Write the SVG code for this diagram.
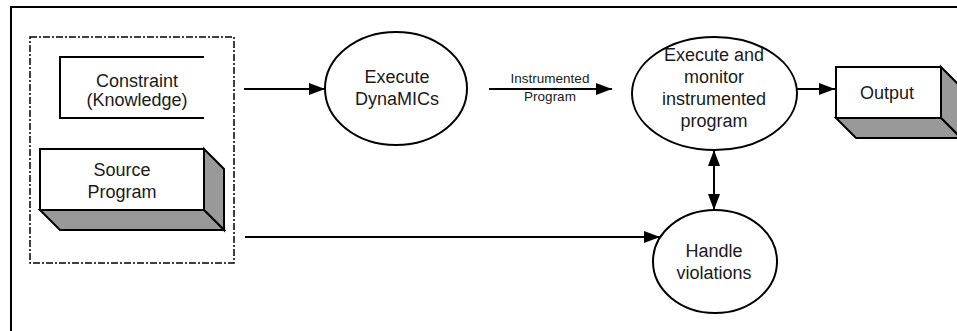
<svg xmlns="http://www.w3.org/2000/svg" width="957" height="331" viewBox="0 0 957 331">
<style>
  text { font-family: "Liberation Sans", Arial, sans-serif; font-size: 18px; fill: #1a1a1a; text-anchor: middle; }
  .small { font-size: 13.5px; }
  .ln { stroke: #000; stroke-width: 2; fill: none; }
  .node { stroke: #000; stroke-width: 2; fill: #fff; }
  .side { stroke: #000; stroke-width: 2; fill: #999; stroke-linejoin: miter; }
</style>
<defs>
  <marker id="ah" viewBox="0 0 16 12" refX="16" refY="6" markerWidth="16" markerHeight="12" markerUnits="userSpaceOnUse" orient="auto-start-reverse">
    <path d="M0,0 L16,6 L0,12 Z" fill="#000"/>
  </marker>
</defs>
<rect width="957" height="331" fill="#fff"/>
<rect x="11" y="7" width="980" height="360" fill="none" stroke="#000" stroke-width="2"/>

<g id="input-group">
  <rect x="30" y="37" width="204" height="226" fill="none" stroke="#000" stroke-width="1.5" stroke-dasharray="7,2,2,2"/>
</g>

<g id="constraint">
  <path class="ln" d="M204,57 H60 V118 H204"/>
  <text x="137" y="87">Constraint</text>
  <text x="137" y="106">(Knowledge)</text>
</g>

<g id="source-program">
  <polygon class="side" points="204,149 224,169 224,230 204,210"/>
  <polygon class="side" points="40,210 204,210 224,230 60,230"/>
  <rect class="node" x="40" y="149" width="164" height="61"/>
  <text x="122" y="176">Source</text>
  <text x="122" y="198">Program</text>
</g>

<g id="execute-dynamics">
  <ellipse class="node" cx="396" cy="88.5" rx="71" ry="56.5"/>
  <text x="397" y="83">Execute</text>
  <text x="397" y="105">DynaMICs</text>
</g>

<g id="execute-monitor">
  <ellipse class="node" cx="714.5" cy="93.5" rx="82.5" ry="56.5"/>
  <text x="714" y="61">Execute and</text>
  <text x="714" y="83">monitor</text>
  <text x="714" y="105">instrumented</text>
  <text x="714" y="127">program</text>
</g>

<g id="output">
  <polygon class="side" points="941,67 961,87 961,138 941,118"/>
  <polygon class="side" points="836,118 941,118 961,138 856,138"/>
  <rect class="node" x="836" y="67" width="105" height="51"/>
  <text x="887" y="99">Output</text>
</g>

<g id="handle-violations">
  <ellipse class="node" cx="715" cy="261.5" rx="62" ry="51.5"/>
  <text x="714" y="257">Handle</text>
  <text x="714" y="279">violations</text>
</g>

<g id="connectors">
  <line class="ln" x1="244" y1="89" x2="325" y2="89" marker-end="url(#ah)"/>
  <line class="ln" x1="489" y1="89" x2="612" y2="89" marker-end="url(#ah)"/>
  <text class="small" x="550" y="83">Instrumented</text>
  <text class="small" x="550" y="101">Program</text>
  <line class="ln" x1="797" y1="89" x2="835" y2="89" marker-end="url(#ah)"/>
  <line class="ln" x1="714" y1="150" x2="714" y2="210" marker-start="url(#ah)" marker-end="url(#ah)"/>
  <line class="ln" x1="245" y1="237" x2="660" y2="237" marker-end="url(#ah)"/>
</g>
</svg>
